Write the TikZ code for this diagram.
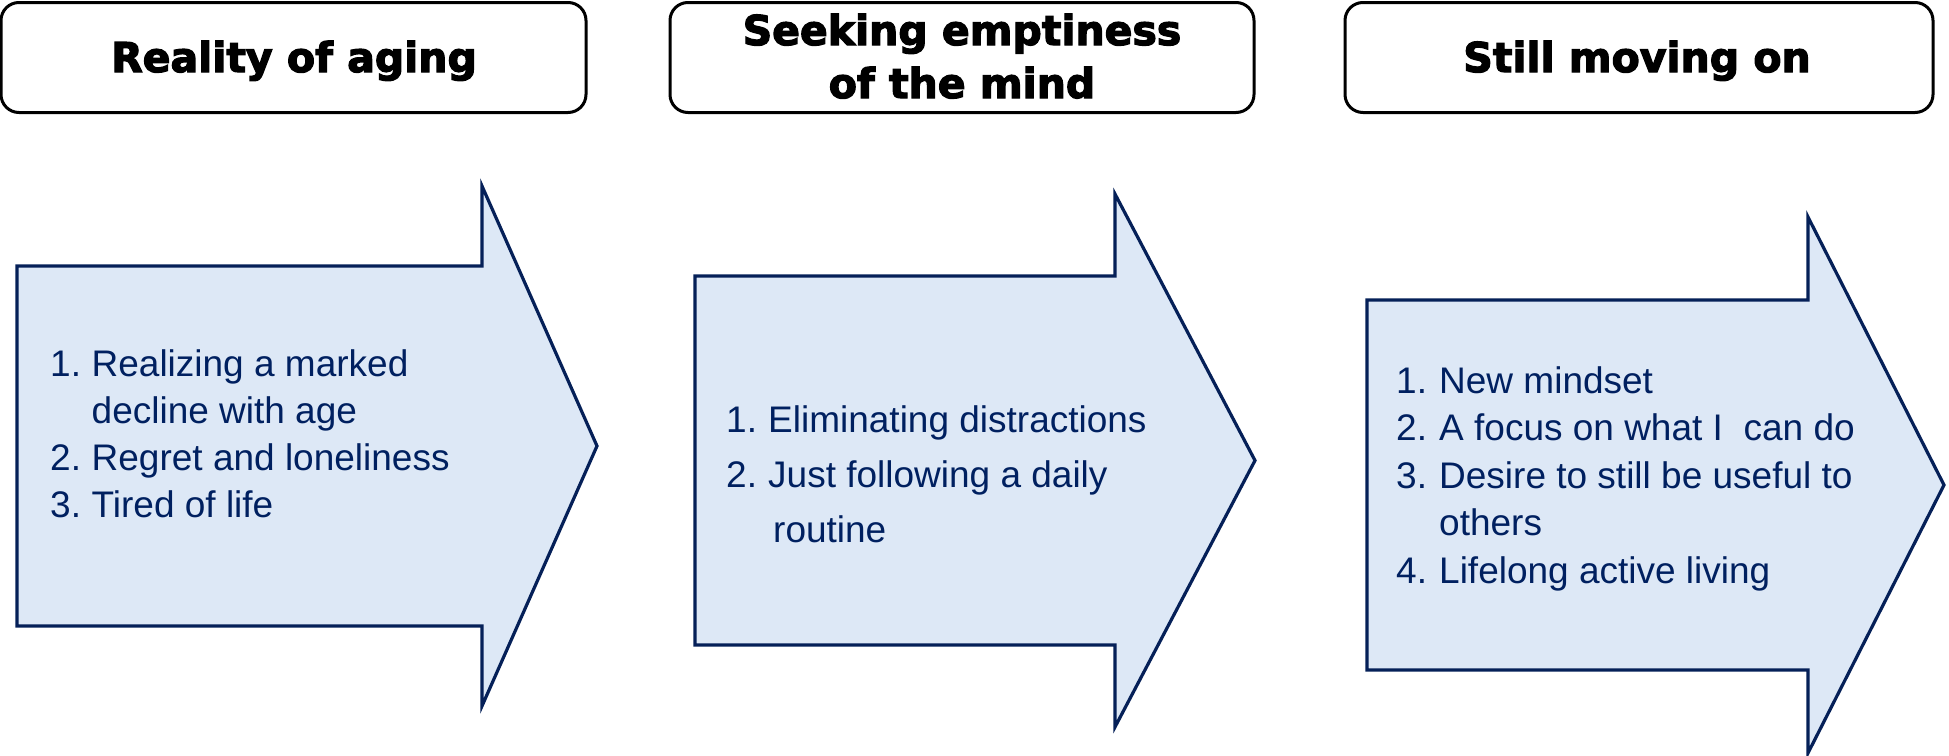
\documentclass[tikz,border=0pt]{standalone}
\usepackage{fontspec}
\setmainfont{Liberation Sans}
\newfontfamily\titlefont[BoldFeatures={FakeBold=3}]{DejaVu Sans}
\definecolor{navy}{RGB}{5,32,88}
\definecolor{paleblue}{RGB}{221,232,246}
\definecolor{textnavy}{RGB}{0,32,96}
\begin{document}
\begin{tikzpicture}[x=1pt,y=-1pt,
  titlebox/.style={draw=black,line width=3pt,rounded corners=18pt,inner sep=0pt,minimum height=110pt},
  titletext/.style={font=\titlefont\bfseries\fontsize{41}{53}\selectfont,inner sep=0pt,anchor=base,text=black},
  arrowshape/.style={draw=navy,fill=paleblue,line width=3.2pt,line join=miter},
  listtext/.style={text=textnavy,inner sep=0pt,anchor=base west}
]
\useasboundingbox (0,0) rectangle (1949,755);

% title boxes
\node[titlebox,minimum width=585pt] (box1) at (293.5,57.5) {};
\node[titlebox,minimum width=584pt] (box2) at (962,57.5) {};
\node[titlebox,minimum width=588pt] (box3) at (1639,57.5) {};

\node[titletext] (t1) at (294,72) {Reality of aging};
\node[titletext] (t2) at (962,45) {\begin{tabular}[t]{@{}c@{}}Seeking emptiness\\of the mind\end{tabular}};
\node[titletext] (t3) at (1637,72) {Still moving on};

% arrows
\draw[arrowshape] (17,266) -- (482,266) -- (482,186) -- (597,446) -- (482,706) -- (482,626) -- (17,626) -- cycle;
\draw[arrowshape] (695,276) -- (1115,276) -- (1115,194) -- (1255,460.5) -- (1115,727) -- (1115,645) -- (695,645) -- cycle;
\draw[arrowshape] (1367,300) -- (1808,300) -- (1808,217) -- (1944,485) -- (1808,753) -- (1808,670) -- (1367,670) -- cycle;

% lists
\node[listtext,font=\fontsize{37}{47}\selectfont] (l1) at (50,376)
 {\begin{tabular}[t]{@{}p{41.5pt}@{}l@{}}1.&Realizing a marked\\ &decline with age\\2.&Regret and loneliness\\3.&Tired of life\end{tabular}};
\node[listtext,font=\fontsize{37}{55}\selectfont] (l2) at (726,432)
 {\begin{tabular}[t]{@{}p{42pt}@{}l@{}}1.&Eliminating distractions\\2.&Just following a daily\\ &\hspace{5pt}routine\end{tabular}};
\node[listtext,font=\fontsize{37}{47.5}\selectfont] (l3) at (1396,393)
 {\begin{tabular}[t]{@{}p{43pt}@{}l@{}}1.&New mindset\\2.&A focus on what I~ can do\\3.&Desire to still be useful to\\ &others\\4.&Lifelong active living\end{tabular}};
\end{tikzpicture}
\end{document}
